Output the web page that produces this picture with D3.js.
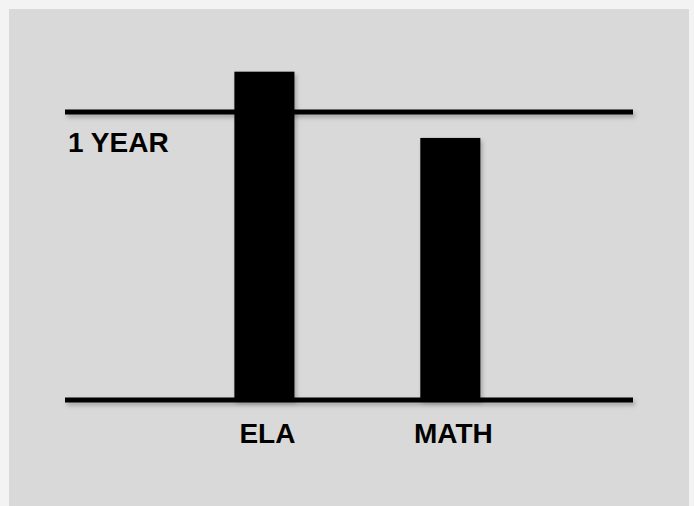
<!DOCTYPE html>
<html>
<head>
<meta charset="utf-8">
<script src="https://cdn.jsdelivr.net/npm/d3@7"></script>
<style>
  html, body { margin: 0; padding: 0; background: #f3f3f3; }
  svg { display: block; }
</style>
</head>
<body>
<svg id="chart" width="694" height="506"></svg>
<script>
const categories = ['ELA', 'MATH'];
const years = [1.14, 0.91];
const refLevel = 1;
const refLabel = '1 YEAR';

const svg = d3.select('#chart');
const width = 694;
const height = 506;

// shadow under lines and bars (user space so flat lines still get it)
const defs = svg.append('defs');
defs.append('filter')
  .attr('id', 'shadow')
  .attr('filterUnits', 'userSpaceOnUse')
  .attr('x', 0).attr('y', 0)
  .attr('width', width).attr('height', height)
  .append('feDropShadow')
  .attr('dx', 2).attr('dy', 3)
  .attr('stdDeviation', 2)
  .attr('flood-color', '#000')
  .attr('flood-opacity', 0.25);

// gray panel
svg.append('rect')
  .attr('x', 9).attr('y', 9)
  .attr('width', 680).attr('height', height - 9)
  .attr('fill', '#d9d9d9');

const xScale = d3.scaleBand()
  .domain(categories)
  .range([65, 633])
  .paddingInner(0.677)
  .paddingOuter(0.866)
  .align(0.526);

const yScale = d3.scaleLinear()
  .domain([0, 1])
  .range([400, 112]);

const g = svg.append('g');

// bars
g.selectAll('rect.bar')
  .data(categories)
  .enter()
  .append('rect')
  .attr('class', 'bar')
  .attr('x', d => xScale(d))
  .attr('y', (d, i) => yScale(years[i]))
  .attr('width', xScale.bandwidth())
  .attr('height', (d, i) => yScale(0) - yScale(years[i]))
  .attr('fill', '#000')
  .attr('filter', 'url(#shadow)');

// baseline and one-year line
const [x0, x1] = xScale.range();
g.selectAll('line.rule')
  .data([0, refLevel])
  .enter()
  .append('line')
  .attr('class', 'rule')
  .attr('x1', x0)
  .attr('x2', x1)
  .attr('y1', d => yScale(d))
  .attr('y2', d => yScale(d))
  .attr('stroke', '#000')
  .attr('stroke-width', 5)
  .attr('filter', 'url(#shadow)');

// category labels
g.selectAll('text.cat')
  .data(categories)
  .enter()
  .append('text')
  .attr('class', 'cat')
  .attr('x', d => xScale(d) + xScale.bandwidth() / 2 + 3)
  .attr('y', yScale(0) + 43)
  .attr('text-anchor', 'middle')
  .attr('font-family', 'Liberation Sans, Arial, sans-serif')
  .attr('font-weight', 'bold')
  .attr('font-size', '28px')
  .attr('fill', '#000')
  .text(d => d);

// reference label
g.append('text')
  .attr('x', 68)
  .attr('y', yScale(refLevel) + 40)
  .attr('font-family', 'Liberation Sans, Arial, sans-serif')
  .attr('font-weight', 'bold')
  .attr('font-size', '28px')
  .attr('fill', '#000')
  .text(refLabel);
</script>
</body>
</html>
